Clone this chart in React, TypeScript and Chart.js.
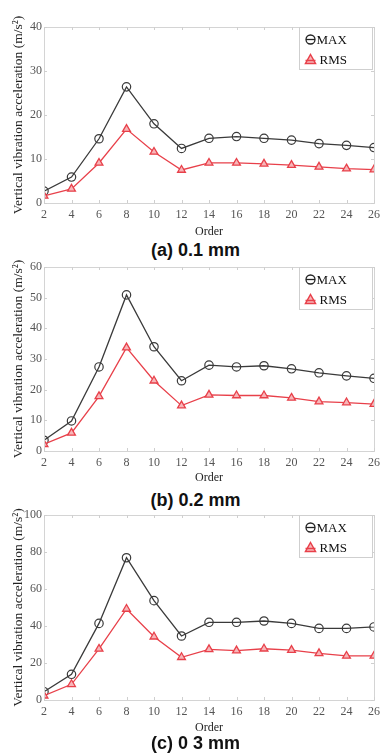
import React, { useEffect, useRef } from "react";
import { Chart, registerables } from "chart.js";

Chart.register(...registerables);

const orders = [2, 4, 6, 8, 10, 12, 14, 16, 18, 20, 22, 24, 26];

const maxA = [2.7, 5.9, 14.6, 26.4, 18.0, 12.4, 14.7, 15.1, 14.7, 14.3, 13.5, 13.1, 12.6];
const rmsA = [1.6, 3.2, 9.1, 16.8, 11.6, 7.5, 9.1, 9.1, 8.9, 8.6, 8.2, 7.8, 7.6];

const maxB = [3.5, 9.8, 27.4, 50.9, 34.0, 22.9, 28.0, 27.4, 27.8, 26.8, 25.5, 24.5, 23.7];
const rmsB = [2.2, 5.9, 17.8, 33.7, 22.9, 14.8, 18.3, 18.1, 18.1, 17.3, 16.1, 15.8, 15.3];

const maxC = [4.5, 13.9, 41.4, 76.9, 53.7, 34.6, 42.0, 42.0, 42.7, 41.4, 38.7, 38.7, 39.5];
const rmsC = [2.3, 8.5, 27.6, 49.2, 34.2, 23.1, 27.4, 26.7, 27.7, 27.0, 25.2, 23.8, 23.8];

const seriesLabels = ["MAX", "RMS"];
const yTitle = "Vertical vibration acceleration (m/s\u00B2)";
const xTitle = "Order";
const captions = ["(a) 0.1 mm", "(b) 0.2 mm", "(c) 0 3 mm"];

const MAX_COLOR = "#3a3a3a";
const RMS_COLOR = "#e8404a";
const RMS_FILL = "#f7b6b9";
const SERIF = "'Liberation Serif', 'DejaVu Serif', serif";

const framePlugin = {
  id: "frame",
  afterDraw(chart: any) {
    const { ctx, chartArea } = chart;
    const { left, right, top, bottom } = chartArea;
    ctx.save();
    ctx.strokeStyle = "#d4d4d4";
    ctx.lineWidth = 1;
    ctx.strokeRect(Math.round(left) + 0.5, Math.round(top) + 0.5, Math.round(right - left), Math.round(bottom - top));
    // inward tick marks
    ctx.strokeStyle = "#cfcfcf";
    const xs = chart.scales.x;
    const ys = chart.scales.y;
    ctx.beginPath();
    xs.ticks.forEach((t: any) => {
      const px = Math.round(xs.getPixelForValue(t.value)) + 0.5;
      ctx.moveTo(px, bottom);
      ctx.lineTo(px, bottom - 3);
      ctx.moveTo(px, top);
      ctx.lineTo(px, top + 3);
    });
    ys.ticks.forEach((t: any) => {
      const py = Math.round(ys.getPixelForValue(t.value)) + 0.5;
      ctx.moveTo(left, py);
      ctx.lineTo(left + 3, py);
      ctx.moveTo(right, py);
      ctx.lineTo(right - 3, py);
    });
    ctx.stroke();

    // legend box
    const bw = 73;
    const bh = 42;
    const bx = Math.round(right - bw - 2) + 0.5;
    const by = Math.round(top) + 0.5;
    ctx.fillStyle = "#ffffff";
    ctx.fillRect(bx, by, bw, bh);
    ctx.strokeStyle = "#cfcfcf";
    ctx.strokeRect(bx, by, bw, bh);

    const mx = bx + 11;
    const y1 = by + 12;
    const y2 = by + 32;
    // MAX marker: circle with line
    ctx.strokeStyle = "#222";
    ctx.lineWidth = 1.3;
    ctx.beginPath();
    ctx.arc(mx, y1, 4.5, 0, Math.PI * 2);
    ctx.stroke();
    ctx.beginPath();
    ctx.moveTo(mx - 4.5, y1);
    ctx.lineTo(mx + 4.5, y1);
    ctx.stroke();
    // RMS marker: triangle
    ctx.fillStyle = RMS_FILL;
    ctx.strokeStyle = RMS_COLOR;
    ctx.lineWidth = 1.5;
    ctx.beginPath();
    ctx.moveTo(mx, y2 - 5);
    ctx.lineTo(mx + 5, y2 + 4);
    ctx.lineTo(mx - 5, y2 + 4);
    ctx.closePath();
    ctx.fill();
    ctx.stroke();
    ctx.beginPath();
    ctx.moveTo(mx - 5, y2 + 1);
    ctx.lineTo(mx + 5, y2 + 1);
    ctx.stroke();

    ctx.fillStyle = "#111";
    ctx.font = `13px ${SERIF}`;
    ctx.textBaseline = "middle";
    ctx.textAlign = "left";
    ctx.fillText(seriesLabels[0], mx + 6, y1 + 1);
    ctx.fillText(seriesLabels[1], mx + 9, y2 + 1);
    ctx.restore();
  },
};

type PanelProps = {
  top: number;
  height: number;
  plotTop: number;
  plotBottom: number;
  yMax: number;
  yStep: number;
  maxData: number[];
  rmsData: number[];
};

function Panel({ top, height, plotTop, plotBottom, yMax, yStep, maxData, rmsData }: PanelProps) {
  const ref = useRef<HTMLCanvasElement>(null);
  useEffect(() => {
    if (!ref.current) return;
    const chart = new Chart(ref.current, {
      type: "line",
      data: {
        datasets: [
          {
            label: seriesLabels[1],
            data: orders.map((x, i) => ({ x, y: rmsData[i] })),
            borderColor: RMS_COLOR,
            borderWidth: 1.3,
            pointStyle: "triangle",
            pointRadius: 4.5,
            pointBackgroundColor: RMS_FILL,
            pointBorderColor: RMS_COLOR,
            pointBorderWidth: 1.3,
            tension: 0,
          },
          {
            label: seriesLabels[0],
            data: orders.map((x, i) => ({ x, y: maxData[i] })),
            borderColor: MAX_COLOR,
            borderWidth: 1.3,
            pointStyle: "circle",
            pointRadius: 4.2,
            pointBackgroundColor: "rgba(255,255,255,0)",
            pointBorderColor: MAX_COLOR,
            pointBorderWidth: 1.2,
            tension: 0,
          },
        ],
      },
      options: {
        responsive: false,
        animation: false,
        devicePixelRatio: 1,
        layout: { padding: { top: plotTop - top, right: 8, left: 0, bottom: 0 } },
        plugins: { legend: { display: false }, tooltip: { enabled: false } },
        scales: {
          x: {
            type: "linear",
            min: 2,
            max: 26,
            ticks: { stepSize: 2, padding: 5, color: "#555", font: { family: SERIF, size: 12 } },
            grid: { display: false, drawTicks: false },
            border: { display: false },
            title: {
              display: true,
              text: xTitle,
              color: "#222",
              font: { family: SERIF, size: 12 },
              padding: { top: 0, bottom: 1 },
            },
            afterFit: (s: any) => {
              s.height = height - (plotBottom - top);
            },
          },
          y: {
            type: "linear",
            min: 0,
            max: yMax,
            ticks: { stepSize: yStep, padding: 2, color: "#555", font: { family: SERIF, size: 12 } },
            grid: { display: false, drawTicks: false },
            border: { display: false },
            title: {
              display: true,
              text: yTitle,
              color: "#222",
              font: { family: SERIF, size: 13.5 },
              padding: { top: 10, bottom: 0 },
            },
            afterFit: (s: any) => {
              s.width = 44;
            },
          },
        },
      },
      plugins: [framePlugin],
    } as any);
    return () => chart.destroy();
  }, []);
  return (
    <canvas
      ref={ref}
      width={385}
      height={height}
      style={{ position: "absolute", left: 0, top, width: 385, height }}
    />
  );
}

function Caption({ text, top }: { text: string; top: number }) {
  return (
    <div
      style={{
        position: "absolute",
        left: 0,
        top,
        width: 391,
        textAlign: "center",
        font: "bold 18px 'Liberation Sans', Arial, sans-serif",
        lineHeight: "20px",
        color: "#111",
      }}
    >
      {text}
    </div>
  );
}

export default function App() {
  return (
    <div style={{ position: "absolute", left: 0, top: 0, width: 385, height: 756, background: "#fff", overflow: "hidden" }}>
      <Panel top={0} height={240} plotTop={27} plotBottom={203} yMax={40} yStep={10} maxData={maxA} rmsData={rmsA} />
      <Caption text={captions[0]} top={240} />
      <Panel top={250} height={236} plotTop={267} plotBottom={451} yMax={60} yStep={10} maxData={maxB} rmsData={rmsB} />
      <Caption text={captions[1]} top={490} />
      <Panel top={500} height={236} plotTop={515} plotBottom={700} yMax={100} yStep={20} maxData={maxC} rmsData={rmsC} />
      <Caption text={captions[2]} top={733} />
    </div>
  );
}
